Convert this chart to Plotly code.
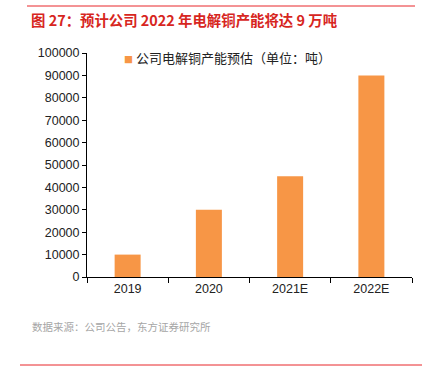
import plotly.graph_objects as go

categories = ["2019", "2020", "2021E", "2022E"]
values = [10000, 30000, 45000, 90000]
series_name = "公司电解铜产能预估（单位：吨）"
title_text = "图 27：预计公司 2022 年电解铜产能将达 9 万吨"
source_text = "数据来源：公司公告，东方证券研究所"

W, H = 428, 383
L, R, T, B = 87, 16, 53, 106
pw, ph = W - L - R, H - T - B

def px(x):
    return (x - L) / pw

def py(y):
    return (H - B - y) / ph

font_main = "Liberation Sans, Noto Sans CJK SC, sans-serif"
font_cjk = "Noto Sans CJK SC, Liberation Sans, sans-serif"
bar_color = "#F79646"

fig = go.Figure()
fig.add_trace(go.Bar(
    x=categories, y=values, name=series_name,
    marker=dict(color=bar_color, line=dict(width=0)),
    width=0.32, showlegend=False, hoverinfo="skip",
))

fig.update_layout(
    width=W, height=H,
    margin=dict(l=L, r=R, t=T, b=B, autoexpand=False),
    paper_bgcolor="white", plot_bgcolor="white",
    font=dict(family=font_main, size=12.5, color="#222"),
    showlegend=False,
    xaxis=dict(showline=True, linecolor="#000", linewidth=1,
               ticks="outside", ticklen=5, tickcolor="#000",
               tickson="boundaries", showgrid=False,
               tickfont=dict(family=font_main, size=12.5, color="#222")),
    yaxis=dict(range=[0, 100000], dtick=10000, showline=True, linecolor="#000",
               linewidth=1, ticks="outside", ticklen=4, tickcolor="#000",
               showgrid=False, zeroline=False, tickformat="d",
               tickfont=dict(family=font_main, size=12.5, color="#222")),
)

shapes = [
    dict(type="line", xref="paper", yref="paper", x0=px(27), x1=px(415),
         y0=py(6), y1=py(6), line=dict(color="#E8262A", width=1)),
    dict(type="line", xref="paper", yref="paper", x0=px(20), x1=px(422),
         y0=py(365), y1=py(365), line=dict(color="#E8262A", width=1)),
]
fig.update_layout(shapes=shapes)

fig.add_annotation(text="<b>" + title_text + "</b>", xref="paper", yref="paper",
                   x=px(29), y=py(19), xanchor="left", yanchor="middle",
                   showarrow=False, font=dict(family=font_cjk, size=14.4, color="#D7261E"))
fig.add_annotation(text="<span style='color:%s;font-size:9px'>■</span> %s" % (bar_color, series_name),
                   xref="paper", yref="paper",
                   x=px(122), y=py(57), xanchor="left", yanchor="middle",
                   showarrow=False, font=dict(family=font_cjk, size=13, color="#222"))
fig.add_annotation(text=source_text, xref="paper", yref="paper",
                   x=px(30), y=py(326), xanchor="left", yanchor="middle",
                   showarrow=False, font=dict(family=font_cjk, size=10.5, color="#A6A6A6"))

fig.write_html("out.html", config={"displayModeBar": False, "staticPlot": True},
               post_script="document.body.style.margin='0';document.body.style.overflow='hidden';")
